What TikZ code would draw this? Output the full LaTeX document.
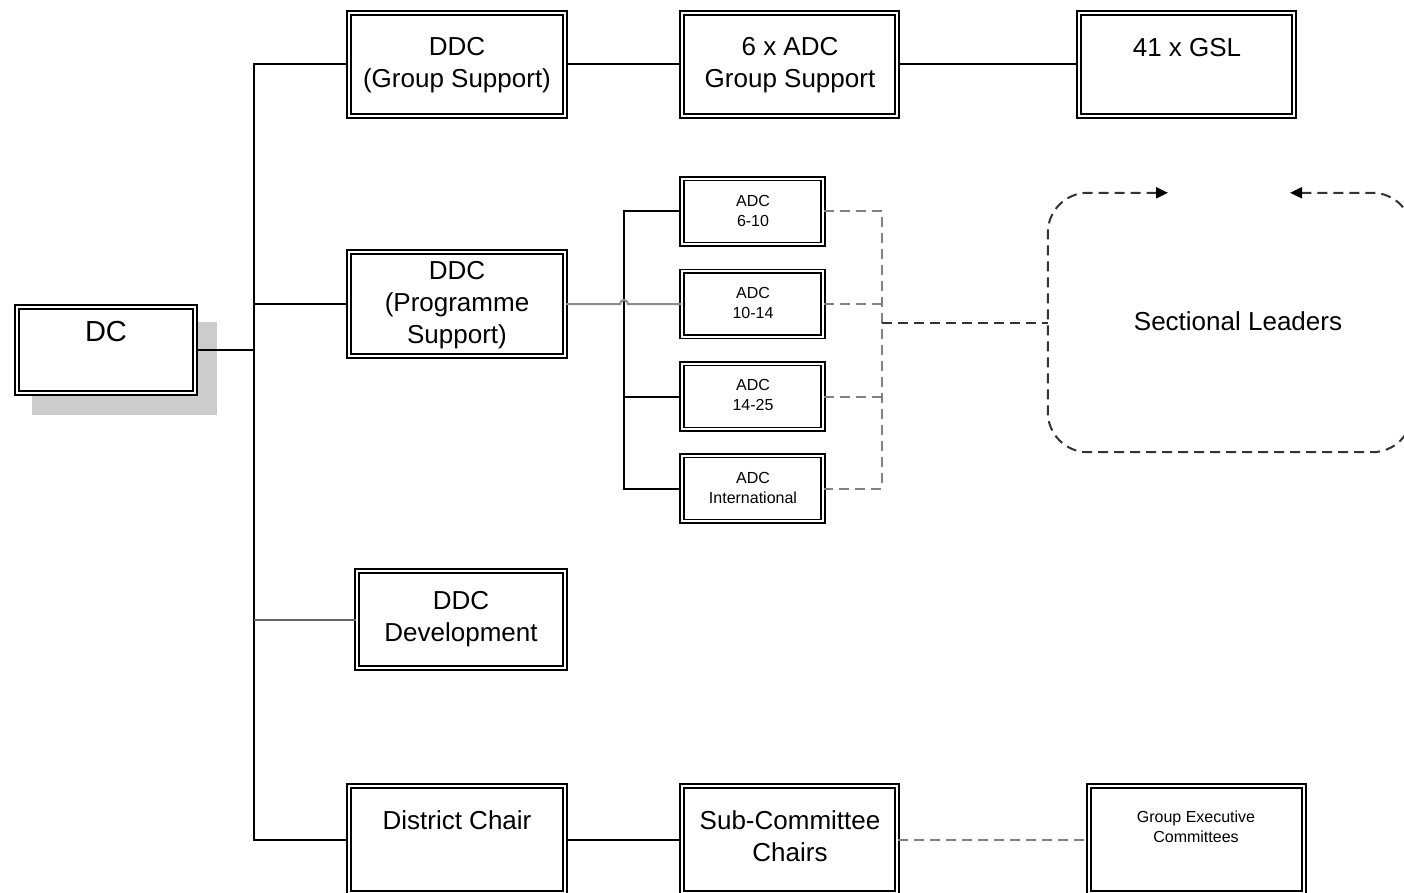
\documentclass[tikz,border=0pt]{standalone}
\usepackage{fontspec}
\setmainfont{Liberation Sans}
\usetikzlibrary{arrows.meta}
\tikzset{
  box/.style={draw=black, double=white, line width=1.4pt, double distance=2.4pt, fill=white, inner sep=0pt},
  big/.style={font=\fontsize{26}{32}\selectfont, align=center, inner sep=0pt},
  huge/.style={font=\fontsize{29}{34}\selectfont, align=center, inner sep=0pt},
  small/.style={font=\fontsize{16}{20}\selectfont, align=center, inner sep=0pt},
  conn/.style={line width=2pt, black},
  gconn/.style={line width=2pt, black!45},
  devconn/.style={line width=2pt, black!60},
  dgray/.style={line width=2pt, black!50, dash pattern=on 10pt off 6pt},
  ddark/.style={line width=2pt, black!80, dash pattern=on 10pt off 6pt},
  bothtips/.style={>={Triangle[length=12pt,width=11pt,color=black]}, <->},
}
\begin{document}
\begin{tikzpicture}[x=1pt,y=-1pt]
\useasboundingbox (0,0) rectangle (1404,893);
\clip (0,0) rectangle (1404,893);
\fill[white] (0,0) rectangle (1404,893);

% shadow of DC
\fill[black!20] (32,322) rectangle (217,415);

% boxes
\node[box, minimum width=178pt, minimum height=86pt] (dc) at (106,350) {};
\node[box, minimum width=216pt, minimum height=103pt] (gs) at (457,64.5) {};
\node[box, minimum width=215pt, minimum height=103pt] (ags) at (789.5,64.5) {};
\node[box, minimum width=215pt, minimum height=103pt] (gsl) at (1186.5,64.5) {};
\node[box, minimum width=216pt, minimum height=104pt] (ps) at (457,304) {};
\node[box, minimum width=141pt, minimum height=65.5pt] (a1) at (752.5,211.5) {};
\node[box, minimum width=141pt, minimum height=65.5pt] (a2) at (752.5,304) {};
\node[box, minimum width=141pt, minimum height=65.5pt] (a3) at (752.5,396.5) {};
\node[box, minimum width=141pt, minimum height=65.5pt] (a4) at (752.5,488.5) {};
\node[box, minimum width=208pt, minimum height=97pt] (dev) at (461,619.5) {};
\node[box, minimum width=216pt, minimum height=107pt] (chair) at (457,839.5) {};
\node[box, minimum width=215pt, minimum height=107pt] (sub) at (789.5,839.5) {};
\node[box, minimum width=215pt, minimum height=107pt] (gec) at (1196.5,839.5) {};
\node[inner sep=0pt, minimum width=364pt, minimum height=259pt] (sl) at (1230,322.5) {};

% texts
\node[huge, anchor=base] (tdc) at (106,341.5) {DC};
\node[big] (tgs) at (457,65.5) {DDC\\(Group Support)};
\node[big] (tags) at (790,65.5) {6 x ADC\\Group Support};
\node[big, anchor=base] (tgsl) at (1187,56.3) {41 x GSL};
\node[big] (tps) at (457,305.5) {DDC\\(Programme\\Support)};
\node[small] (ta1) at (753,211) {ADC\\6-10};
\node[small] (ta2) at (753,303) {ADC\\10-14};
\node[small] (ta3) at (753,395) {ADC\\14-25};
\node[small] (ta4) at (753,487.5) {ADC\\International};
\node[big, anchor=base] (tsl) at (1238,330.3) {Sectional Leaders};
\node[big] (tdev) at (461,619.5) {DDC\\Development};
\node[big, anchor=base] (tchair) at (457,829.3) {District Chair};
\node[big] (tsub) at (790,836) {Sub-Committee\\Chairs};
\node[small] (tgec) at (1196,827) {Group Executive\\Committees};

% trunk
\coordinate (tk) at (254,0);
\draw[conn] (gs.west) -| (tk |- chair.west) -- (chair.west);
\draw[conn] (dc.east) -- (dc.east -| tk);
\draw[conn] (ps.west) -- (ps.west -| tk);
\draw[devconn] (dev.west) -- (dev.west -| tk);

% top row
\draw[conn] (gs.east) -- (ags.west);
\draw[conn] (ags.east) -- (gsl.west);

% ADC sub-trunk
\coordinate (st) at (624,0);
\draw[conn] (a1.west) -| (st |- a4.west) -- (a4.west);
\draw[conn] (a3.west) -- (a3.west -| st);
\draw[gconn] (ps.east) -- ([xshift=-4pt]ps.east -| st) arc[start angle=180, end angle=0, radius=4pt] -- (a2.west);

% dashed links
\coordinate (dx) at (882,0);
\draw[dgray] (a1.east) -| (dx |- a4.east) -- (a4.east);
\draw[dgray] (a2.east) -- (a2.east -| dx);
\draw[dgray] (a3.east) -- (a3.east -| dx);
\draw[ddark] (sl.west -| dx) -- (sl.west);

% sectional leaders outline
\draw[ddark, rounded corners=40pt, bothtips]
  ([xshift=-62pt]sl.north) -- (sl.north west) -- (sl.south west) -- (sl.south east) -- (sl.north east) -- ([xshift=60pt]sl.north);

% bottom row
\draw[conn] (chair.east) -- (sub.west);
\draw[dgray] (sub.east) -- (gec.west);
\end{tikzpicture}
\end{document}
